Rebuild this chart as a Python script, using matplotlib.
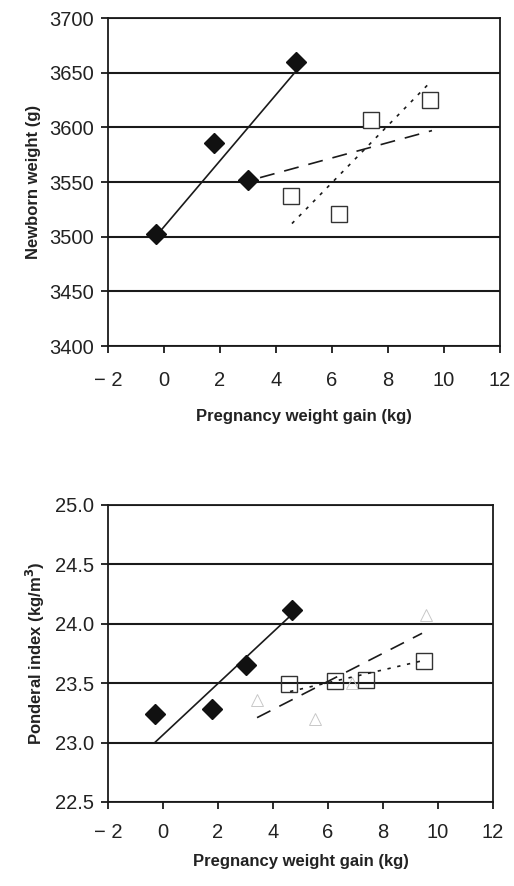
import matplotlib
matplotlib.use('Agg')
import matplotlib.pyplot as plt

plt.rcParams['font.family'] = ['Liberation Sans', 'DejaVu Sans']

# x axis shared by both panels
x_ticks = [-2, 0, 2, 4, 6, 8, 10, 12]
x_labels = ['\u2212 2', '0', '2', '4', '6', '8', '10', '12']

# top panel: newborn weight (g)
nw_diamond_x = [-0.3, 1.8, 3.0, 4.7]
nw_diamond_y = [3502, 3586, 3552, 3660]
nw_square_x = [4.55, 6.25, 7.4, 9.5]
nw_square_y = [3537, 3521, 3607, 3625]
nw_solid_x = [-0.3, 4.7]
nw_solid_y = [3500, 3651]
nw_dash_x = [3.43, 9.57]
nw_dash_y = [3554, 3597]
nw_dot_x = [4.57, 9.5]
nw_dot_y = [3512, 3641]
nw_ticks = [3400, 3450, 3500, 3550, 3600, 3650, 3700]

# bottom panel: ponderal index (kg/m3)
pi_diamond_x = [-0.3, 1.78, 3.02, 4.69]
pi_diamond_y = [23.24, 23.28, 23.65, 24.12]
pi_square_x = [4.58, 6.25, 7.38, 9.49]
pi_square_y = [23.49, 23.52, 23.53, 23.69]
pi_tri_x = [3.42, 5.53, 6.87, 9.56]
pi_tri_y = [23.36, 23.2, 23.5, 24.07]
pi_solid_x = [-0.3, 4.6]
pi_solid_y = [23.0, 24.06]
pi_dash_x = [3.42, 9.42]
pi_dash_y = [23.21, 23.92]
pi_dot_x = [4.62, 9.45]
pi_dot_y = [23.43, 23.69]
pi_ticks = [22.5, 23.0, 23.5, 24.0, 24.5, 25.0]

fig = plt.figure(figsize=(5.14, 8.86), dpi=100)
ax1 = fig.add_axes([108 / 514, 1 - 346 / 886, 392 / 514, 328 / 886])
ax2 = fig.add_axes([108 / 514, 1 - 802 / 886, 385 / 514, 297 / 886])


def style(ax, yticks, ylabels, ylabel, xpad, xlpad, ylpad):
    ax.set_xlim(-2, 12)
    ax.set_ylim(yticks[0], yticks[-1])
    ax.set_xticks(x_ticks)
    ax.set_xticklabels(x_labels)
    ax.set_yticks(yticks)
    ax.set_yticklabels(ylabels)
    ax.grid(axis='y', color='#1a1a1a', lw=1.5)
    ax.set_axisbelow(True)
    for s in ax.spines.values():
        s.set_color('#1a1a1a')
        s.set_linewidth(1.3)
    ax.tick_params(direction='out', length=5, width=1.3, colors='#1a1a1a',
                   labelsize=14.5, labelcolor='#222222')
    ax.tick_params(axis='x', pad=xpad)
    ax.tick_params(axis='y', pad=5)
    ax.set_xlabel('Pregnancy weight gain (kg)', fontsize=12, fontweight='bold',
                  labelpad=xlpad, color='#222222')
    ax.set_ylabel(ylabel, fontsize=12, fontweight='bold', labelpad=ylpad,
                  color='#222222')


style(ax1, nw_ticks, [str(t) for t in nw_ticks], 'Newborn weight (g)',
      13, 14, 6)
style(ax2, pi_ticks, ['%.1f' % t for t in pi_ticks],
      r'Ponderal index (kg/m$^{\mathbf{3}}$)', 10, 9, 6)

ax1.plot(nw_solid_x, nw_solid_y, color='#1a1a1a', lw=1.2)
ax1.plot(nw_dash_x, nw_dash_y, color='#1a1a1a', lw=1.2, dashes=(9, 6))
ax1.plot(nw_dot_x, nw_dot_y, color='#1a1a1a', lw=1.2, dashes=(2, 4))
ax1.plot(nw_diamond_x, nw_diamond_y, 'D', color='#111111', ms=10,
         clip_on=False)
ax1.plot(nw_square_x, nw_square_y, 's', mfc='white', mec='#333333', mew=1,
         ms=12)

ax2.plot(pi_tri_x, pi_tri_y, '^', mfc='none', mec='#c8c8c8', mew=0.7, ms=8)
ax2.plot(pi_square_x, pi_square_y, 's', mfc='none', mec='#333333', mew=1,
         ms=12)
ax2.plot(pi_solid_x, pi_solid_y, color='#1a1a1a', lw=1.2)
ax2.plot(pi_dash_x, pi_dash_y, color='#1a1a1a', lw=1.2, dashes=(9, 6))
ax2.plot(pi_dot_x, pi_dot_y, color='#1a1a1a', lw=1.2, dashes=(2, 4))
ax2.plot(pi_diamond_x, pi_diamond_y, 'D', color='#111111', ms=10)

fig.savefig('out.png', dpi=100)
